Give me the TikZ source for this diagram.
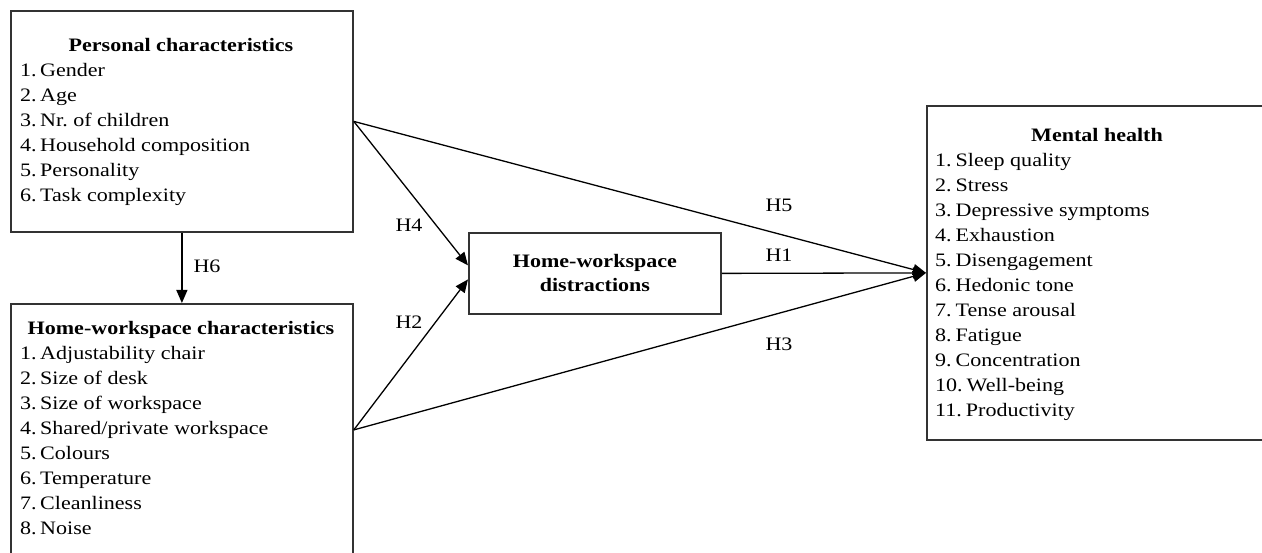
\documentclass[tikz,border=0pt]{standalone}
\usepackage{fontspec}
\setmainfont[FakeStretch=1.16]{Liberation Serif}
\usetikzlibrary{arrows.meta}
\frenchspacing
\begin{document}
\begin{tikzpicture}[x=1pt,y=-1pt,
 box/.style={draw=black!80, line width=1.8pt, fill=white, inner sep=0pt},
 txt/.style={inner sep=0pt, text height=13pt, text depth=4pt, font=\fontsize{19}{23}\selectfont, text=black},
 item/.style={txt, anchor=west},
 head/.style={txt, font=\fontsize{19}{23}\selectfont\bfseries},
 conn/.style={line width=1.3pt, draw=black},
 arr/.style={conn, -{Triangle[length=13pt,width=11pt]}},
 lab/.style={txt}]
\useasboundingbox (0,0) rectangle (1262,553);
\fill[white] (0,0) rectangle (1262,553);
\clip (0,0) rectangle (1262,553);
% boxes
\node[box, minimum width=342pt, minimum height=221pt, anchor=north west] (pc) at (10,10) {};
\node[box, minimum width=342pt, minimum height=252pt, anchor=north west] (hw) at (10,303) {};
\node[box, minimum width=252pt, minimum height=81pt, anchor=north west, align=center,
      font=\fontsize{19}{24}\selectfont\bfseries] (hd) at (468,232) {Home-workspace\\distractions};
\node[box, minimum width=344pt, minimum height=334pt, anchor=north west] (mh) at (926,105) {};
% texts
\node[head] (pch) at (181,47) {Personal characteristics};
\foreach \t [count=\i] in {Gender, Age, Nr. of children, Household composition, Personality, Task complexity}
  \node[item] (pci\i) at (20,{72+25*(\i-1)}) {\i.\hspace{3.5pt}\t};
\node[head] (hwh) at (181,330) {Home-workspace characteristics};
\foreach \t [count=\i] in {Adjustability chair, Size of desk, Size of workspace, Shared/private workspace, Colours, Temperature, Cleanliness, Noise}
  \node[item] (hwi\i) at (20,{355+25*(\i-1)}) {\i.\hspace{3.5pt}\t};
\node[head] (mhh) at (1097,137) {Mental health};
\foreach \t [count=\i] in {Sleep quality, Stress, Depressive symptoms, Exhaustion, Disengagement, Hedonic tone, Tense arousal, Fatigue, Concentration, Well-being, Productivity}
  \node[item] (mhi\i) at (935,{162+25*(\i-1)}) {\i.\hspace{4pt}\t};
% connectors
\draw[arr] (pc.south) -- (hw.north);
\draw[arr] (pc.east) -- ([yshift=8pt]hd.west);
\draw[arr] (hw.east) -- ([yshift=-6pt]hd.west);
\draw[arr] (pc.east) -- (mh.west);
\draw[arr] (hw.east) -- (mh.west);
\draw[arr] (hd.east) -- (mh.west);
% labels
\node[lab] (h6) at (207,268) {H6};
\node[lab] (h4) at (409,227) {H4};
\node[lab] (h2) at (409,324) {H2};
\node[lab] (h5) at (779,207) {H5};
\node[lab] (h1) at (779,257) {H1};
\node[lab] (h3) at (779,346) {H3};
\end{tikzpicture}
\end{document}
